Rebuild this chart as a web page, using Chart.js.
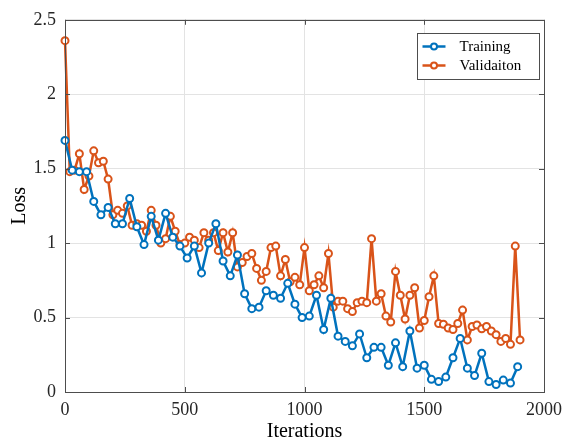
<!DOCTYPE html>
<html>
<head>
<meta charset="utf-8">
<script src="https://cdn.jsdelivr.net/npm/chart.js@4.4.1/dist/chart.umd.min.js"></script>
<style>
  body { margin: 0; background: #fff; }
  canvas { display: block; }
</style>
</head>
<body>
<canvas id="canvas" width="569" height="448"></canvas>
<script>
// training loss, logged every 30 iterations
var trainIter = [0, 30, 60, 90, 120, 150, 180, 210, 240, 270, 300, 330, 360, 390, 420, 450,
    480, 510, 540, 570, 600, 630, 660, 690, 720, 750, 780, 810, 840, 870, 900, 930,
    960, 990, 1020, 1050, 1080, 1110, 1140, 1170, 1200, 1230, 1260, 1290, 1320, 1350, 1380, 1410,
    1440, 1470, 1500, 1530, 1560, 1590, 1620, 1650, 1680, 1710, 1740, 1770, 1800, 1830, 1860, 1890];
var trainLoss = [1.69, 1.49, 1.48, 1.48, 1.28, 1.19, 1.24, 1.13, 1.13, 1.30, 1.11, 0.99, 1.18, 1.02, 1.20, 1.04,
    0.98, 0.90, 0.98, 0.80, 1.00, 1.13, 0.88, 0.78, 0.92, 0.66, 0.56, 0.57, 0.68, 0.65, 0.63, 0.73,
    0.59, 0.50, 0.51, 0.65, 0.42, 0.63, 0.375, 0.34, 0.31, 0.39, 0.23, 0.30, 0.30, 0.18, 0.33, 0.17,
    0.41, 0.16, 0.18, 0.085, 0.07, 0.10, 0.23, 0.36, 0.16, 0.11, 0.26, 0.07, 0.05, 0.08, 0.06, 0.17];

// validation loss, every 20 iterations
var valIter = [0, 20, 40, 60, 80, 100, 120, 140, 160, 180, 200, 220, 240, 260, 280, 300,
    320, 340, 360, 380, 400, 420, 440, 460, 480, 500, 520, 540, 560, 580, 600, 620,
    640, 660, 680, 700, 720, 740, 760, 780, 800, 820, 840, 860, 880, 900, 920, 940,
    960, 980, 1000, 1020, 1040, 1060, 1080, 1100, 1120, 1140, 1160, 1180, 1200, 1220, 1240, 1260,
    1280, 1300, 1320, 1340, 1360, 1380, 1400, 1420, 1440, 1460, 1480, 1500, 1520, 1540, 1560, 1580,
    1600, 1620, 1640, 1660, 1680, 1700, 1720, 1740, 1760, 1780, 1800, 1820, 1840, 1860, 1880, 1900];
var valLoss = [2.36, 1.48, 1.49, 1.60, 1.36, 1.45, 1.62, 1.54, 1.55, 1.43, 1.19, 1.22, 1.20, 1.25, 1.12, 1.13,
    1.12, 1.08, 1.22, 1.12, 1.00, 1.03, 1.18, 1.08, 0.99, 1.00, 1.04, 1.02, 0.97, 1.07, 1.02, 1.07,
    0.95, 1.07, 0.94, 1.07, 0.84, 0.87, 0.91, 0.93, 0.83, 0.75, 0.81, 0.97, 0.98, 0.78, 0.89, 0.74,
    0.77, 0.72, 0.97, 0.68, 0.72, 0.78, 0.70, 0.93, 0.57, 0.61, 0.61, 0.56, 0.54, 0.60, 0.61, 0.60,
    1.03, 0.61, 0.66, 0.51, 0.47, 0.81, 0.65, 0.49, 0.65, 0.70, 0.43, 0.48, 0.64, 0.78, 0.46, 0.455,
    0.43, 0.42, 0.46, 0.55, 0.35, 0.44, 0.45, 0.425, 0.44, 0.41, 0.385, 0.34, 0.36, 0.32, 0.98, 0.35];

var seriesNames = ["Training", "Validaiton"];
var xTicks = [0, 500, 1000, 1500, 2000];
var yTicks = [0, 0.5, 1, 1.5, 2, 2.5];

var blue = "#0072BD";
var orange = "#D95319";
var serif = "'Liberation Serif', 'Times New Roman', serif";

function toPoints(xs, ys) {
    return xs.map(function(x, i) { return { x: x, y: ys[i] }; });
}

// box round the axes with inward ticks on all four sides, matlab style
const axesBox = {
    id: "axesBox",
    afterDatasetsDraw(chart) {
        const ctx = chart.ctx;
        const a = chart.chartArea;
        const xs = chart.scales.x, ys = chart.scales.y;
        const tl = 5;
        ctx.save();
        ctx.strokeStyle = "#4d4d4d";
        ctx.lineWidth = 1;
        ctx.beginPath();
        xTicks.forEach(function(v) {
            const px = Math.round(xs.getPixelForValue(v)) + 0.5;
            ctx.moveTo(px, a.bottom); ctx.lineTo(px, a.bottom - tl);
            ctx.moveTo(px, a.top); ctx.lineTo(px, a.top + tl);
        });
        yTicks.forEach(function(v) {
            const py = Math.round(ys.getPixelForValue(v)) + 0.5;
            ctx.moveTo(a.left, py); ctx.lineTo(a.left + tl, py);
            ctx.moveTo(a.right, py); ctx.lineTo(a.right - tl, py);
        });
        ctx.stroke();
        ctx.strokeRect(Math.round(a.left) + 0.5, Math.round(a.top) + 0.5,
            Math.round(a.right - a.left), Math.round(a.bottom - a.top));
        ctx.restore();
    }
};

// legend drawn inside the axes, top right
const legendBox = {
    id: "legendBox",
    afterDraw(chart) {
        const ctx = chart.ctx;
        const a = chart.chartArea;
        const w = 122, h = 46;
        const x0 = Math.round(a.right - 5 - w) + 0.5;
        const y0 = Math.round(a.top + 13) + 0.5;
        ctx.save();
        ctx.fillStyle = "#fff";
        ctx.fillRect(x0, y0, w, h);
        ctx.strokeStyle = "#4d4d4d";
        ctx.lineWidth = 1;
        ctx.strokeRect(x0, y0, w, h);
        ctx.font = "15px " + serif;
        ctx.textBaseline = "middle";
        chart.data.datasets.forEach(function(ds, k) {
            const cy = y0 + 13 + k * 19;
            ctx.strokeStyle = ds.borderColor;
            ctx.lineWidth = 2.5;
            ctx.beginPath();
            ctx.moveTo(x0 + 5, cy);
            ctx.lineTo(x0 + 28, cy);
            ctx.stroke();
            ctx.beginPath();
            ctx.arc(x0 + 16.5, cy, 3, 0, Math.PI * 2);
            ctx.fillStyle = "#fff";
            ctx.fill();
            ctx.lineWidth = 2;
            ctx.stroke();
            ctx.fillStyle = "#000";
            ctx.fillText(ds.label, x0 + 42, cy + 1);
        });
        ctx.restore();
    }
};

const canvas = document.getElementById("canvas");
const ctx = canvas.getContext("2d");

new Chart(ctx, {
    type: "line",
    data: {
        datasets: [{
            label: seriesNames[0],
            data: toPoints(trainIter, trainLoss),
            borderColor: blue,
            backgroundColor: "#fff",
            borderWidth: 2.5,
            pointRadius: 3.5,
            pointBorderWidth: 2,
            pointBackgroundColor: "#fff",
            pointBorderColor: blue,
            tension: 0,
            clip: false
        }, {
            label: seriesNames[1],
            data: toPoints(valIter, valLoss),
            borderColor: orange,
            backgroundColor: "#fff",
            borderWidth: 2.5,
            pointRadius: 3.5,
            pointBorderWidth: 2,
            pointBackgroundColor: "#fff",
            pointBorderColor: orange,
            tension: 0,
            clip: false
        }]
    },
    options: {
        responsive: false,
        animation: false,
        devicePixelRatio: 1,
        layout: { padding: { left: 0, right: 23, top: 12, bottom: 0 } },
        plugins: {
            legend: { display: false },
            tooltip: { enabled: false }
        },
        scales: {
            x: {
                type: "linear",
                min: 0,
                max: 2000,
                afterBuildTicks: function(scale) {
                    scale.ticks = xTicks.map(function(v) { return { value: v }; });
                },
                afterFit: function(scale) { scale.height = 56; },
                grid: { color: "#e3e3e3", drawTicks: false },
                border: { display: false },
                ticks: {
                    color: "#262626",
                    padding: 7,
                    maxRotation: 0,
                    font: { family: serif, size: 18 },
                    callback: function(v) { return String(v); }
                },
                title: {
                    display: true,
                    text: "Iterations",
                    color: "#000",
                    font: { family: serif, size: 20 },
                    padding: { top: 0, bottom: 4 }
                }
            },
            y: {
                min: 0,
                max: 2.5,
                afterBuildTicks: function(scale) {
                    scale.ticks = yTicks.map(function(v) { return { value: v }; });
                },
                afterFit: function(scale) { scale.width = 65; },
                grid: { color: "#e3e3e3", drawTicks: false },
                border: { display: false },
                ticks: {
                    color: "#262626",
                    padding: 9,
                    font: { family: serif, size: 18 },
                    callback: function(v) { return String(v); }
                },
                title: {
                    display: true,
                    text: "Loss",
                    color: "#000",
                    font: { family: serif, size: 20 },
                    padding: { top: 8, bottom: 0 }
                }
            }
        }
    },
    plugins: [axesBox, legendBox]
});
</script>
</body>
</html>
